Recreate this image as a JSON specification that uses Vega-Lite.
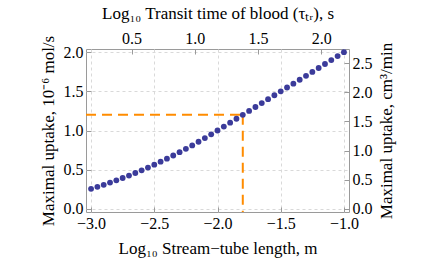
{
  "$schema": "https://vega.github.io/schema/vega-lite/v6.json",
  "width": 263,
  "height": 163,
  "autosize": "none",
  "padding": {"left": 86, "top": 49, "right": 86, "bottom": 49},
  "config": {
    "font": "Liberation Serif",
    "view": {"stroke": "#9a9a9a", "strokeWidth": 1},
    "axis": {
      "labelFont": "Liberation Serif",
      "titleFont": "Liberation Serif",
      "labelFontSize": 16,
      "titleFontSize": 17,
      "titleFontWeight": "normal",
      "labelColor": "#000000",
      "titleColor": "#000000",
      "domain": false,
      "tickColor": "#9a9a9a",
      "tickSize": -5,
      "labelFlush": false,
      "labelOverlap": false,
      "gridColor": "#d9d9d9",
      "gridDash": [3, 3],
      "gridWidth": 1
    }
  },
  "datasets": {
    "uptake": [
      {"log_length": -3.00, "uptake": 0.256},
      {"log_length": -2.95, "uptake": 0.281},
      {"log_length": -2.90, "uptake": 0.307},
      {"log_length": -2.85, "uptake": 0.335},
      {"log_length": -2.80, "uptake": 0.364},
      {"log_length": -2.75, "uptake": 0.394},
      {"log_length": -2.70, "uptake": 0.425},
      {"log_length": -2.65, "uptake": 0.458},
      {"log_length": -2.60, "uptake": 0.492},
      {"log_length": -2.55, "uptake": 0.527},
      {"log_length": -2.50, "uptake": 0.564},
      {"log_length": -2.45, "uptake": 0.602},
      {"log_length": -2.40, "uptake": 0.641},
      {"log_length": -2.35, "uptake": 0.681},
      {"log_length": -2.30, "uptake": 0.723},
      {"log_length": -2.25, "uptake": 0.766},
      {"log_length": -2.20, "uptake": 0.810},
      {"log_length": -2.15, "uptake": 0.856},
      {"log_length": -2.10, "uptake": 0.903},
      {"log_length": -2.05, "uptake": 0.951},
      {"log_length": -2.00, "uptake": 1.000},
      {"log_length": -1.95, "uptake": 1.050},
      {"log_length": -1.90, "uptake": 1.100},
      {"log_length": -1.85, "uptake": 1.150},
      {"log_length": -1.80, "uptake": 1.200},
      {"log_length": -1.75, "uptake": 1.250},
      {"log_length": -1.70, "uptake": 1.300},
      {"log_length": -1.65, "uptake": 1.350},
      {"log_length": -1.60, "uptake": 1.400},
      {"log_length": -1.55, "uptake": 1.450},
      {"log_length": -1.50, "uptake": 1.500},
      {"log_length": -1.45, "uptake": 1.549},
      {"log_length": -1.40, "uptake": 1.598},
      {"log_length": -1.35, "uptake": 1.648},
      {"log_length": -1.30, "uptake": 1.698},
      {"log_length": -1.25, "uptake": 1.748},
      {"log_length": -1.20, "uptake": 1.798},
      {"log_length": -1.15, "uptake": 1.849},
      {"log_length": -1.10, "uptake": 1.899},
      {"log_length": -1.05, "uptake": 1.950},
      {"log_length": -1.00, "uptake": 2.000}
    ],
    "guides": [
      {"x": -3.04, "x2": -1.8, "y": 1.2, "y2": 1.2},
      {"x": -1.8, "x2": -1.8, "y": 1.2, "y2": -0.04}
    ],
    "rightAxis": [
      {"cm3": 0.0, "transit": 0.5},
      {"cm3": 2.5, "transit": 2.0}
    ]
  },
  "layer": [
    {
      "data": {"name": "guides"},
      "mark": {"type": "rule", "color": "#ff8c00", "strokeWidth": 2, "strokeDash": [10, 6]},
      "encoding": {
        "x": {"field": "x", "type": "quantitative", "scale": {"domain": [-3.04, -0.96], "nice": false, "zero": false}, "axis": null},
        "x2": {"field": "x2"},
        "y": {"field": "y", "type": "quantitative", "scale": {"domain": [-0.04, 2.04], "nice": false, "zero": false}, "axis": null},
        "y2": {"field": "y2"}
      }
    },
    {
      "data": {"name": "uptake"},
      "mark": {"type": "circle", "color": "#3b3b9a", "opacity": 1, "size": 34},
      "encoding": {
        "x": {
          "field": "log_length", "type": "quantitative",
          "scale": {"domain": [-3.04, -0.96], "nice": false, "zero": false},
          "axis": {"orient": "bottom", "values": [-3, -2.5, -2, -1.5, -1], "format": ".1f", "grid": true, "labelPadding": 8, "title": "Log₁₀ Stream−tube length, m", "titlePadding": 9}
        },
        "y": {
          "field": "uptake", "type": "quantitative",
          "scale": {"domain": [-0.04, 2.04], "nice": false, "zero": false},
          "axis": {"orient": "left", "values": [0, 0.5, 1, 1.5, 2], "format": ".1f", "grid": true, "labelPadding": 8, "title": "Maximal uptake, 10⁻⁶ mol/s", "titlePadding": 6}
        }
      }
    },
    {
      "data": {"name": "rightAxis"},
      "mark": {"type": "point", "opacity": 0},
      "encoding": {
        "x": {
          "field": "transit", "type": "quantitative",
          "scale": {"domain": [0.14, 2.22], "nice": false, "zero": false},
          "axis": {"orient": "top", "values": [0.5, 1, 1.5, 2], "format": ".1f", "grid": false, "labelPadding": 8, "title": "Log₁₀ Transit time of blood (τₜᵣ), s", "titlePadding": 8}
        },
        "y": {
          "field": "cm3", "type": "quantitative",
          "scale": {"domain": [-0.0538, 2.742], "nice": false, "zero": false},
          "axis": {"orient": "right", "values": [0, 0.5, 1, 1.5, 2, 2.5], "format": ".1f", "grid": false, "labelPadding": 8, "title": "Maximal uptake, cm³/min", "titleAngle": 270, "titleBaseline": "top", "titlePadding": 6}
        }
      }
    }
  ],
  "resolve": {"scale": {"x": "independent", "y": "independent"}}
}
